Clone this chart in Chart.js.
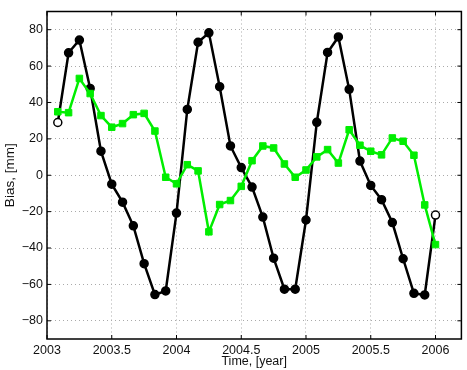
<!DOCTYPE html>
<html>
<head>
<meta charset="utf-8">
<script src="https://cdn.jsdelivr.net/npm/chart.js@4/dist/chart.umd.min.js"></script>
<style>
  html, body { margin: 0; padding: 0; background: #fff; }
  #wrap { width: 467px; height: 370px; }
</style>
</head>
<body>
<div id="wrap"><canvas id="bias-chart"></canvas></div>
<script>
"use strict";

/* --- DATA --- */

// month number counted from Jan 2003 (1 = end of Jan 2003 ... 36 = end of 2005)
const month_no = [1, 2, 3, 4, 5, 6, 7, 8, 9, 10, 11, 12,
  13, 14, 15, 16, 17, 18, 19, 20, 21, 22, 23, 24,
  25, 26, 27, 28, 29, 30, 31, 32, 33, 34, 35, 36];

const bias_black = [29, 67.3, 74.3, 47.7, 13.2, -4.9, -14.8, -27.8, -48.6, -65.6, -63.6, -20.8,
  36.2, 73.1, 78.3, 48.7, 16.1, 4.2, -6.5, -23, -45.6, -62.6, -62.6, -24.6,
  29.1, 67.5, 76, 47.2, 7.8, -5.6, -13.4, -26, -45.9, -64.9, -65.8, -21.9];

const bias_green = [34.9, 34.4, 53.2, 44.9, 32.8, 26.4, 28.4, 33.3, 34, 24.3, -1.1, -4.7,
  5.8, 2.4, -31.1, -16.1, -13.9, -6.1, 8, 16.1, 15, 6.2, -1.1, 2.9,
  10.1, 14.1, 6.7, 25, 16.5, 13.2, 11.2, 20.5, 18.7, 11, -16.3, -38.1];

const x_ticks = [2003, 2003.5, 2004, 2004.5, 2005, 2005.5, 2006];
const y_ticks = [-80, -60, -40, -20, 0, 20, 40, 60, 80];

/* --- HELPERS --- */

const to_points = (vals) => vals.map((v, i) => ({ x: 2003 + month_no[i] / 12, y: v }));

const tick_font = { family: 'Liberation Sans, Arial, sans-serif', size: 12.5 };

// black frame + inward tick marks (matlab style box)
const frame_plugin = {
  id: 'frame',
  afterDatasetsDraw(chart) {
    const { ctx, chartArea: a, scales } = chart;
    ctx.save();
    ctx.strokeStyle = '#000';
    ctx.lineWidth = 1.5;
    ctx.setLineDash([]);
    ctx.strokeRect(a.left, a.top, a.right - a.left, a.bottom - a.top);
    ctx.lineWidth = 1;
    ctx.beginPath();
    x_ticks.forEach(t => {
      const px = scales.x.getPixelForValue(t);
      ctx.moveTo(px, a.bottom); ctx.lineTo(px, a.bottom - 4);
      ctx.moveTo(px, a.top); ctx.lineTo(px, a.top + 4);
    });
    y_ticks.forEach(t => {
      const py = scales.y.getPixelForValue(t);
      ctx.moveTo(a.left, py); ctx.lineTo(a.left + 4, py);
      ctx.moveTo(a.right, py); ctx.lineTo(a.right - 4, py);
    });
    ctx.stroke();
    ctx.restore();
  }
};

/* --- CHART --- */

const bias_canvas = document.getElementById('bias-chart');

const black_fill = bias_black.map((v, i) => (i === 0 || i === bias_black.length - 1) ? '#fff' : '#000');

let bias_chart = new Chart(bias_canvas, {
  type: 'line',
  data: {
    datasets: [{
      label: 'black',
      data: to_points(bias_black),
      borderColor: '#000',
      borderWidth: 2.5,
      pointStyle: 'circle',
      pointRadius: 4,
      pointBorderWidth: 1.5,
      pointBackgroundColor: black_fill,
      pointBorderColor: '#000',
      tension: 0,
      order: 2
    }, {
      label: 'green',
      data: to_points(bias_green),
      borderColor: '#00ee00',
      borderWidth: 2.5,
      pointStyle: 'rect',
      pointRadius: 4.6,
      pointBorderWidth: 1,
      pointBackgroundColor: '#00ee00',
      pointBorderColor: '#00ee00',
      tension: 0,
      order: 1
    }]
  },
  options: {
    responsive: true,
    maintainAspectRatio: false,
    animation: false,
    layout: {
      padding: { left: 0, top: 8, right: 1, bottom: 0 }
    },
    plugins: {
      legend: { display: false },
      tooltip: { enabled: false },
      title: { display: false }
    },
    scales: {
      x: {
        type: 'linear',
        min: 2003,
        max: 2006.2,
        afterBuildTicks: (scale) => { scale.ticks = x_ticks.map(v => ({ value: v })); },
        afterFit: (scale) => { scale.height = 31; },
        ticks: {
          font: tick_font,
          color: '#111',
          padding: 4,
          maxRotation: 0,
          callback: (v) => String(v)
        },
        grid: {
          color: '#aaa',
          lineWidth: 1,
          drawTicks: false
        },
        border: { display: false, dash: [1, 3] },
        title: {
          display: true,
          text: 'Time, [year]',
          font: tick_font,
          color: '#111',
          padding: { top: 0, bottom: 1 }
        }
      },
      y: {
        type: 'linear',
        min: -90,
        max: 90,
        afterBuildTicks: (scale) => { scale.ticks = y_ticks.map(v => ({ value: v })); },
        afterFit: (scale) => { scale.width = 47; },
        ticks: {
          font: tick_font,
          color: '#111',
          padding: 4,
          callback: (v) => (v < 0 ? '\u2212' + Math.abs(v) : String(v))
        },
        grid: {
          color: '#aaa',
          lineWidth: 1,
          drawTicks: false
        },
        border: { display: false, dash: [1, 3] },
        title: {
          display: true,
          text: 'Bias, [mm]',
          font: { family: 'Liberation Sans, Arial, sans-serif', size: 13.5 },
          color: '#111',
          padding: { top: 2, bottom: 0 }
        }
      }
    }
  },
  plugins: [frame_plugin]
});
</script>
</body>
</html>
